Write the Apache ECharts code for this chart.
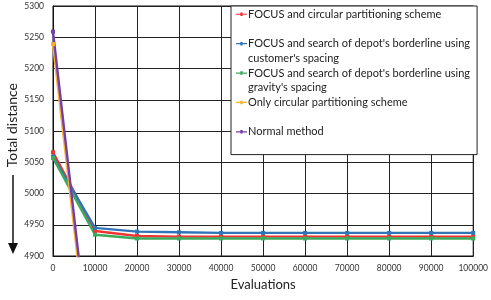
<!DOCTYPE html>
<html><head><meta charset="utf-8">
<script src="https://cdn.jsdelivr.net/npm/echarts@6/dist/echarts.min.js"></script>
<style>html,body{margin:0;padding:0;background:#fff}#c{width:491px;height:300px}</style>
</head><body><div id="c"></div>
<script>
const evaluations = [0, 10000, 20000, 30000, 40000, 50000, 60000, 70000, 80000, 90000, 100000];
const seriesNames = [
  "FOCUS and circular partitioning scheme",
  "FOCUS and search of depot's borderline using\ncustomer's spacing",
  "FOCUS and search of depot's borderline using\ngravity's spacing",
  "Only circular partitioning scheme",
  "Normal method"
];
const focusCircular = [5066, 4940, 4932, 4931, 4931, 4931, 4931, 4931, 4931, 4931, 4931];
const focusCustomer = [5059, 4945, 4939, 4938, 4937, 4937, 4937, 4937, 4937, 4937, 4937];
const focusGravity  = [5057, 4934, 4928, 4928, 4928, 4928, 4928, 4928, 4928, 4928, 4928];
const onlyCircular  = [5239, 4655, 4650, 4648, 4647, 4647, 4647, 4647, 4647, 4647, 4647];
const normalMethod  = [5259, 4670, 4665, 4663, 4662, 4662, 4662, 4662, 4662, 4662, 4662];
const colors = ['#f03434', '#2f75b8', '#3aab5e', '#f9b234', '#7040a8'];
const seriesData = [focusCircular, focusCustomer, focusGravity, onlyCircular, normalMethod];

const font = 'Lato, "Open Sans", sans-serif';
// legend icon: short line with a dot, positioned on the first text line of a two-line block
const iconPath = 'path://M0 0 L0 0 Z M0 6.65 L11 6.65 L11 7.85 L0 7.85 Z M4.3 5.5 L6.7 5.5 L6.7 9 L4.3 9 Z M0 29 L0 29 Z';

const chart = echarts.init(document.getElementById('c'), null, {renderer: 'canvas'});
chart.setOption({
  animation: false,
  backgroundColor: '#fff',
  textStyle: {fontFamily: font},
  grid: {left: 53, right: 15, top: 6, bottom: 44, show: true, borderColor: '#111', borderWidth: 1, backgroundColor: 'transparent'},
  xAxis: {
    type: 'value', min: 0, max: 100000, interval: 10000,
    name: 'Evaluations', nameLocation: 'middle', nameGap: 22,
    nameTextStyle: {fontSize: 13, color: '#222', fontFamily: font},
    axisLine: {lineStyle: {color: '#111', width: 1}},
    axisTick: {show: false},
    axisLabel: {fontSize: 8.5, color: '#333', margin: 8, fontFamily: font, formatter: v => String(v)},
    splitLine: {show: true, lineStyle: {color: '#222', width: 1}}
  },
  yAxis: {
    type: 'value', min: 4900, max: 5300, interval: 50,
    axisLine: {show: true, lineStyle: {color: '#111', width: 1}},
    axisTick: {show: false},
    axisLabel: {fontSize: 8.5, color: '#333', margin: 9, fontFamily: font, formatter: v => String(v)},
    splitLine: {show: true, lineStyle: {color: '#222', width: 1}}
  },
  legend: {
    orient: 'vertical', left: 231, top: 6, width: 245,
    padding: [1, 7, 1, 5],
    backgroundColor: '#fff', borderColor: '#222', borderWidth: 1, borderRadius: 0,
    itemWidth: 11, itemHeight: 29, itemGap: 0.4,
    icon: iconPath,
    itemStyle: {borderWidth: 0},
    textStyle: {fontSize: 11, lineHeight: 14.5, color: '#222', fontFamily: font, padding: [0, 0, 0, -4]},
    formatter: function (n) { return n.indexOf('\n') >= 0 ? n : n + '\n '; },
    data: seriesNames
  },
  series: seriesNames.map((n, i) => ({
    name: n, type: 'line',
    data: evaluations.map((x, j) => [x, seriesData[i][j]]),
    color: colors[i],
    lineStyle: {width: 2.4, color: colors[i]},
    symbol: 'rect', symbolSize: 4,
    itemStyle: {color: colors[i]},
    clip: true, z: 3 + (i >= 3 ? 1 : 0)
  })),
  graphic: [
    {type: 'text', left: 5, top: 83, rotation: Math.PI / 2,
     style: {text: 'Total distance', fontSize: 14, fill: '#222', fontFamily: font}},
    {type: 'line', shape: {x1: 13, y1: 175, x2: 13, y2: 246}, style: {stroke: '#111', lineWidth: 1.5}},
    {type: 'polygon', shape: {points: [[8, 243], [18, 243], [13, 254]]}, style: {fill: '#111'}}
  ]
});
</script></body></html>
